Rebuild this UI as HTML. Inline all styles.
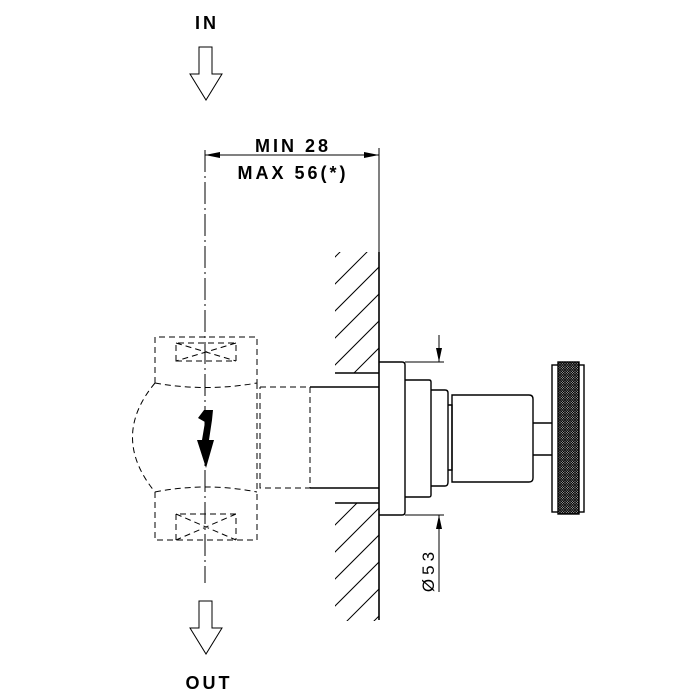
<!DOCTYPE html>
<html><head><style>body{margin:0;background:#fff}svg{display:block}</style></head><body>
<svg width="700" height="700" viewBox="0 0 700 700" xmlns="http://www.w3.org/2000/svg" font-family="Liberation Sans, sans-serif">
<defs>
<clipPath id="wt"><rect x="335" y="252" width="44" height="121"/></clipPath>
<clipPath id="wb"><rect x="335" y="503" width="44" height="118"/></clipPath>
<pattern id="kn" width="2.5" height="2.5" patternUnits="userSpaceOnUse"><rect width="2.5" height="2.5" fill="#ddd"/><path d="M0 0L2.5 2.5M2.5 0L0 2.5" stroke="#000" stroke-width="0.9"/></pattern>
</defs>
<g fill="none" stroke="#000">
<path d="M199 47H212V74H222L206 100L190 74H199Z" stroke-width="1"/>
<path d="M199 601H212V628H222L206 654L190 628H199Z" stroke-width="1"/>
<path d="M205 150V583" stroke-width="1" stroke-dasharray="22,4,2,4"/>
<path d="M205 155H379M379 148V620" stroke-width="1"/>
<g clip-path="url(#wt)" stroke-width="1">
<path d="M300 400L440 260M300 373L440 233M300 346L440 206M300 319L440 179M300 292L440 152M300 427L440 287"/>
</g>
<g clip-path="url(#wb)" stroke-width="1">
<path d="M300 560L440 420M300 587L440 447M300 614L440 474M300 641L440 501M300 668L440 528M300 695L440 555"/>
</g>
<path d="M335 373H379M335 503H379" stroke-width="1.6"/>
<path d="M379 252V620" stroke-width="1.6"/>
<path d="M310 387H379M310 488H379" stroke-width="1.6"/>
<g stroke-width="1" stroke-dasharray="6,4">
<path d="M155 383V337H257V383"/>
<path d="M176 361V343H236V361Z M176 343L236 361M236 343L176 361"/>
<path d="M155 383Q206 392 257 383"/>
<path d="M155 383Q110 437 155 492"/>
<path d="M155 492Q206 482 257 492"/>
<path d="M257 383V492"/>
<path d="M260 387H310V488H260V387"/>
<path d="M155 492V540H257V492"/>
<path d="M176 540V514H236V540 M176 514L236 540M236 514L176 540"/>
</g>
<g stroke-width="1.4">
<path d="M379 362H402Q405 362 405 365V512Q405 515 402 515H379"/>
<path d="M405 380H429Q431 380 431 382V495Q431 497 429 497H405"/>
<path d="M431 390H445Q448 390 448 393V482Q448 486 445 486H431"/>
<path d="M448 405H452V470H448"/>
<path d="M452 395H529Q533 395 533 399V478Q533 482 529 482H452Z"/>
<path d="M533 423H552M533 455H552"/>
<rect x="552" y="365" width="32" height="147"/>
<rect x="558" y="362" width="21" height="152" fill="url(#kn)"/>
</g>
<path d="M405 362H444M405 515H444M439 335V362M439 515V592" stroke-width="1"/>
</g>
<g fill="#000">
<path d="M205 155L220 152V158Z M379 155L364 152V158Z"/>
<path d="M439 362L436 348H442Z M439 515L436 529H442Z"/>
<path d="M204 410L198 418L205 422L202 440L197 440L206 468L214 440L209 440L212 420L213 410Z"/>
</g>
<g font-weight="bold" font-size="18" letter-spacing="3" text-anchor="middle">
<text x="207" y="29">IN</text>
<text x="209" y="689">OUT</text>
<text x="293" y="152">MIN 28</text>
<text x="293" y="179">MAX 56(*)</text>
<text transform="translate(434 570) rotate(-90)" font-weight="normal" font-size="17" letter-spacing="4">Ø53</text>
</g>
</svg>
</body></html>
